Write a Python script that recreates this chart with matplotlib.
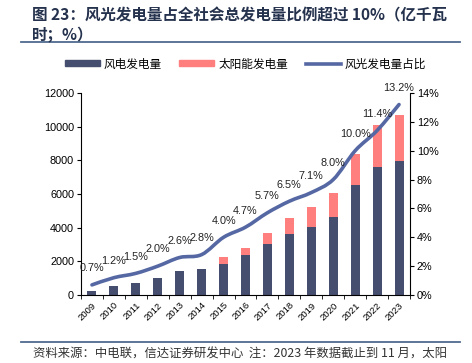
import matplotlib
matplotlib.use("Agg")
import matplotlib.pyplot as plt
import numpy as np
from matplotlib.path import Path
from matplotlib.patches import PathPatch, Patch
from matplotlib.lines import Line2D
from matplotlib.ticker import FixedLocator, FuncFormatter

plt.rcParams['font.family'] = ['Liberation Sans', 'Noto Sans CJK SC', 'DejaVu Sans']

years = ['2009', '2010', '2011', '2012', '2013', '2014', '2015', '2016',
         '2017', '2018', '2019', '2020', '2021', '2022', '2023']
wind = [260, 510, 730, 1010, 1400, 1550, 1860, 2400, 3030, 3650, 4060, 4660, 6560, 7610, 7980]
solar = [0, 0, 0, 0, 0, 0, 395, 395, 655, 930, 1170, 1425, 1840, 2495, 2730]
share = [0.7, 1.2, 1.5, 2.0, 2.6, 2.8, 4.0, 4.7, 5.7, 6.5, 7.1, 8.0, 10.0, 11.4, 13.2]
share_labels = ['0.7%', '1.2%', '1.5%', '2.0%', '2.6%', '2.8%', '4.0%', '4.7%', '5.7%',
                '6.5%', '7.1%', '8.0%', '10.0%', '11.4%', '13.2%']

c_wind = '#454E6E'
c_solar = '#FF7F7F'
c_line = '#5568A3'
cjk = ['Noto Sans CJK SC', 'DejaVu Sans']

fig = plt.figure(figsize=(4.72, 3.63), dpi=100)
ax = fig.add_axes([81 / 472, 1 - 295 / 363, 329 / 472, 202 / 363])
ax2 = ax.twinx()

x = np.arange(len(years))
ax.bar(x, wind, width=0.41, color=c_wind, zorder=2)
ax.bar(x, solar, width=0.41, bottom=wind, color=c_solar, zorder=2)

ax.set_xlim(-0.5, len(years) - 0.5)
ax.set_ylim(0, 12000)
ax.set_yticks(np.arange(0, 12001, 2000))
ax.set_xticks(x)
ax.set_xticklabels(years, rotation=45, ha='right', rotation_mode='anchor', fontsize=6.8)
ax.xaxis.set_minor_locator(FixedLocator(np.arange(-0.5, len(years), 1)))
ax.tick_params(axis='x', which='major', length=0, pad=4)
ax.tick_params(axis='x', which='minor', length=3, direction='out')
ax.tick_params(axis='y', labelsize=7.8, length=3, direction='out', pad=2)
ax.spines['top'].set_visible(False)
ax.spines['right'].set_visible(False)

# smooth line through the share values (bezier built from the data points)
px = x.astype(float)
py = np.array(share, dtype=float)
verts = [(px[0], py[0])]
codes = [Path.MOVETO]
n = len(px)
for i in range(n - 1):
    p0 = np.array([px[max(i - 1, 0)], py[max(i - 1, 0)]])
    p1 = np.array([px[i], py[i]])
    p2 = np.array([px[i + 1], py[i + 1]])
    p3 = np.array([px[min(i + 2, n - 1)], py[min(i + 2, n - 1)]])
    c1 = p1 + (p2 - p0) / 6
    c2 = p2 - (p3 - p1) / 6
    verts += [tuple(c1), tuple(c2), tuple(p2)]
    codes += [Path.CURVE4] * 3
ax2.add_patch(PathPatch(Path(verts, codes), fill=False, edgecolor=c_line, lw=2.6,
                        capstyle='round', joinstyle='round', zorder=3))
ax2.set_ylim(0, 14)
ax2.set_yticks(np.arange(0, 15, 2))
ax2.yaxis.set_major_formatter(FuncFormatter(lambda v, p: '%d%%' % v))
ax2.tick_params(axis='y', labelsize=7.8, length=3, direction='out', pad=2)
ax2.spines['top'].set_visible(False)
ax2.spines['left'].set_visible(False)
ax2.spines['bottom'].set_visible(False)

for xi, yi, lab in zip(x, share, share_labels):
    ax2.annotate(lab, (xi, yi), xytext=(0, 12), textcoords='offset points',
                 ha='center', va='center', fontsize=7.8, color='#222222', zorder=4)

handles = [Patch(color=c_wind), Patch(color=c_solar), Line2D([], [], color=c_line, lw=2.6)]
leg = fig.legend(handles, ['风电发电量', '太阳能发电量', '风光发电量占比'],
                 loc='center', bbox_to_anchor=(0.52, 1 - 64 / 363), ncol=3, frameon=False,
                 prop={'family': cjk, 'size': 8.4}, handlelength=3.0, handleheight=0.45,
                 columnspacing=1.5, handletextpad=0.35)

# title
title_color = '#25324D'
fig.text(32 / 472, 1 - 15 / 363, '图 23：风光发电量占全社会总发电量比例超过 10%（亿千瓦',
         family=cjk, fontsize=11.2, fontweight='bold', color=title_color, va='center', ha='left')
fig.text(32 / 472, 1 - 34 / 363, '时；%）',
         family=cjk, fontsize=11.2, fontweight='bold', color=title_color, va='center', ha='left')
fig.add_artist(Line2D([21 / 472, 460 / 472], [1 - 42 / 363] * 2, color='#4F6A8F', lw=1.3))
fig.add_artist(Line2D([21 / 472, 460 / 472], [1 - 342 / 363] * 2, color='#4F6A8F', lw=1.3))

fig.text(33 / 472, 1 - 354 / 363, '资料来源：中电联，信达证券研发中心  注：2023 年数据截止到 11 月，太阳',
         family=cjk, fontsize=8.9, color='#333333', va='center', ha='left', style='italic')

fig.savefig('out.png', dpi=100)
